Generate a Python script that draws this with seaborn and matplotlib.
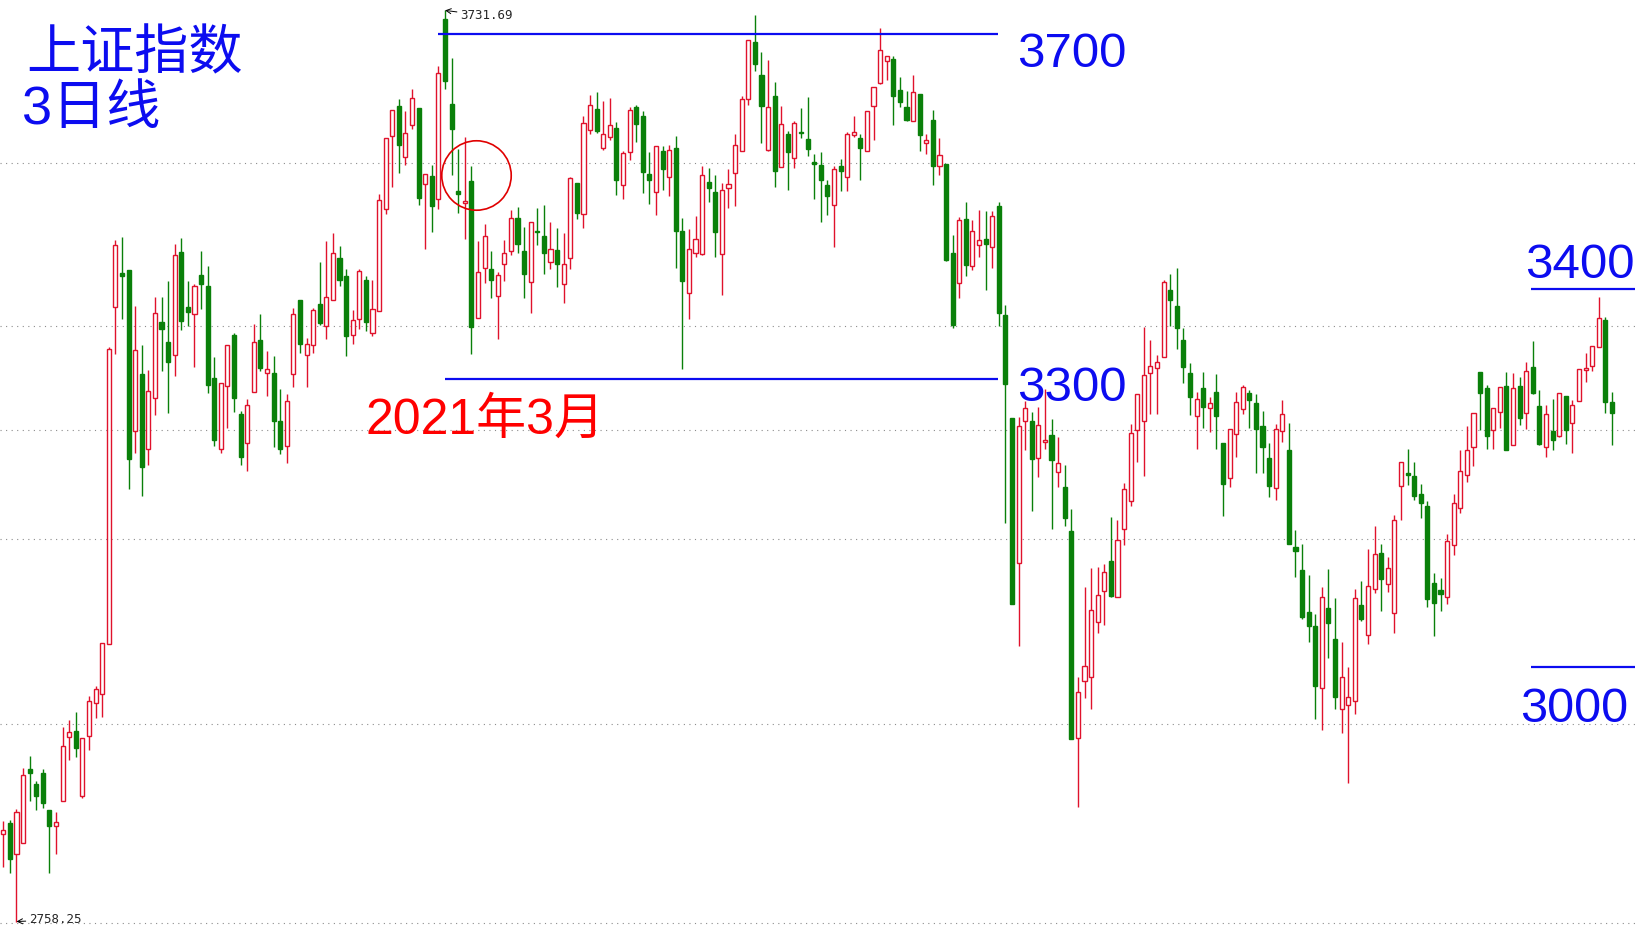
import numpy as np
import pandas as pd
import matplotlib
matplotlib.use("Agg")
import matplotlib.pyplot as plt
import seaborn as sns

# 上证指数 3日线 K线数据 (开, 高, 低, 收)
opens = [
    2852, 2863, 2830, 2842, 2921, 2905, 2917, 2877, 2860, 2887,
    2955, 2962, 2892, 2956, 2992, 3001, 3055, 3415, 3451, 3454,
    3282, 3343, 3263, 3318, 3399, 3377, 3364, 3474, 3415, 3407,
    3449, 3437, 3339, 3263, 3330, 3385, 3300, 3270, 3324, 3380,
    3344, 3344, 3293, 3266, 3343, 3422, 3363, 3374, 3418, 3395,
    3422, 3467, 3448, 3385, 3402, 3444, 3387, 3410, 3520, 3598,
    3630, 3575, 3609, 3627, 3546, 3555, 3530, 3723, 3632, 3539,
    3526, 3549, 3403, 3456, 3455, 3427, 3461, 3475, 3510, 3475,
    3442, 3496, 3491, 3463, 3476, 3439, 3467, 3547, 3514, 3604,
    3626, 3585, 3596, 3606, 3545, 3580, 3629, 3619, 3557, 3538,
    3581, 3554, 3585, 3496, 3430, 3473, 3471, 3548, 3538, 3471,
    3542, 3558, 3581, 3637, 3698, 3663, 3583, 3640, 3564, 3600,
    3574, 3602, 3594, 3570, 3567, 3545, 3524, 3565, 3554, 3599,
    3595, 3582, 3630, 3654, 3678, 3680, 3647, 3628, 3614, 3642,
    3590, 3615, 3565, 3568, 3473, 3440, 3509, 3459, 3481, 3487,
    3479, 3523, 3406, 3296, 3141, 3293, 3293, 3253, 3271, 3278,
    3238, 3223, 3175, 2954, 3015, 3019, 3078, 3111, 3143, 3105,
    3178, 3208, 3283, 3293, 3344, 3350, 3361, 3433, 3416, 3380,
    3344, 3298, 3328, 3307, 3324, 3269, 3232, 3279, 3306, 3323,
    3312, 3288, 3253, 3221, 3282, 3262, 3158, 3134, 3089, 3074,
    3008, 3093, 3060, 2985, 2990, 2994, 3096, 3064, 3114, 3152,
    3119, 3088, 3224, 3237, 3234, 3215, 3202, 3120, 3112, 3105,
    3160, 3200, 3235, 3265, 3345, 3328, 3283, 3303, 3330, 3267,
    3330, 3302, 3351, 3309, 3265, 3282, 3277, 3320, 3291, 3314,
    3348, 3352, 3372, 3401, 3313,
]
highs = [
    2866, 2867, 2879, 2922, 2935, 2908, 2921, 2877, 2875, 2966,
    2974, 2982, 2954, 2999, 3010, 3056, 3372, 3486, 3490, 3454,
    3416, 3374, 3348, 3425, 3426, 3443, 3482, 3488, 3443, 3439,
    3475, 3459, 3361, 3334, 3374, 3387, 3304, 3317, 3397, 3407,
    3368, 3362, 3327, 3322, 3414, 3422, 3382, 3414, 3463, 3485,
    3494, 3480, 3455, 3412, 3455, 3448, 3444, 3536, 3595, 3625,
    3637, 3624, 3648, 3627, 3557, 3566, 3672, 3731.69, 3681, 3584,
    3596, 3565, 3485, 3504, 3475, 3452, 3486, 3518, 3522, 3500,
    3506, 3521, 3524, 3506, 3499, 3494, 3554, 3547, 3619, 3641,
    3644, 3635, 3638, 3612, 3581, 3628, 3631, 3624, 3580, 3587,
    3587, 3588, 3597, 3510, 3498, 3512, 3565, 3563, 3556, 3547,
    3562, 3600, 3640, 3700, 3727, 3687, 3679, 3655, 3630, 3603,
    3614, 3627, 3639, 3578, 3580, 3550, 3565, 3573, 3602, 3619,
    3600, 3624, 3650, 3713, 3683, 3683, 3661, 3646, 3663, 3642,
    3600, 3625, 3595, 3568, 3492, 3511, 3527, 3508, 3518, 3517,
    3517, 3527, 3417, 3296, 3297, 3314, 3303, 3308, 3327, 3295,
    3276, 3246, 3199, 3020, 3116, 3136, 3137, 3140, 3190, 3187,
    3227, 3290, 3322, 3393, 3380, 3364, 3444, 3450, 3457, 3392,
    3355, 3324, 3345, 3319, 3343, 3269, 3284, 3324, 3332, 3326,
    3322, 3304, 3269, 3290, 3315, 3291, 3177, 3162, 3129, 3087,
    3116, 3135, 3104, 3057, 3030, 3114, 3122, 3156, 3181, 3162,
    3148, 3193, 3249, 3263, 3249, 3226, 3208, 3131, 3125, 3172,
    3215, 3262, 3288, 3302, 3345, 3332, 3307, 3329, 3345, 3344,
    3340, 3356, 3379, 3326, 3310, 3316, 3323, 3320, 3315, 3349,
    3366, 3373, 3426, 3404, 3324,
]
lows = [
    2817, 2810, 2758.25, 2842, 2887, 2877, 2880, 2810, 2830, 2887,
    2931, 2934, 2890, 2941, 2976, 2977, 3055, 3365, 3402, 3220,
    3259, 3213, 3246, 3299, 3346, 3302, 3341, 3390, 3394, 3351,
    3413, 3323, 3266, 3259, 3286, 3303, 3246, 3240, 3324, 3346,
    3320, 3265, 3258, 3248, 3329, 3366, 3329, 3366, 3396, 3381,
    3422, 3437, 3362, 3375, 3391, 3389, 3384, 3410, 3514, 3543,
    3558, 3566, 3605, 3524, 3477, 3495, 3520, 3648, 3556, 3515,
    3487, 3365, 3403, 3440, 3424, 3381, 3443, 3470, 3472, 3424,
    3408, 3481, 3450, 3455, 3436, 3419, 3455, 3509, 3499, 3600,
    3601, 3583, 3593, 3534, 3530, 3572, 3591, 3537, 3525, 3513,
    3540, 3533, 3457, 3349, 3402, 3468, 3470, 3527, 3468, 3428,
    3521, 3523, 3581, 3631, 3667, 3590, 3582, 3543, 3564, 3540,
    3563, 3595, 3576, 3530, 3506, 3513, 3479, 3539, 3539, 3596,
    3550, 3581, 3593, 3653, 3657, 3609, 3629, 3614, 3614, 3582,
    3578, 3545, 3556, 3464, 3392, 3424, 3448, 3454, 3468, 3433,
    3457, 3395, 3184, 3097, 3053, 3262, 3197, 3233, 3263, 3178,
    3222, 3181, 2953, 2881, 2997, 2985, 3066, 3075, 3105, 3105,
    3161, 3202, 3249, 3234, 3301, 3301, 3361, 3394, 3370, 3334,
    3299, 3263, 3285, 3281, 3263, 3192, 3222, 3255, 3300, 3285,
    3237, 3237, 3212, 3209, 3271, 3162, 3126, 3081, 3057, 2975,
    2963, 3040, 2985, 2960, 2906, 2980, 3079, 3055, 3109, 3090,
    3110, 3067, 3187, 3225, 3209, 3189, 3094, 3063, 3090, 3098,
    3150, 3195, 3228, 3245, 3283, 3263, 3263, 3285, 3262, 3267,
    3289, 3284, 3322, 3267, 3255, 3262, 3276, 3268, 3259, 3314,
    3335, 3346, 3372, 3302, 3267,
]
closes = [
    2856, 2825, 2875, 2915, 2917, 2892, 2885, 2860, 2865, 2946,
    2961, 2944, 2954, 2994, 3007, 3056, 3370, 3481, 3448, 3252,
    3369, 3244, 3325, 3408, 3391, 3356, 3470, 3400, 3409, 3437,
    3439, 3331, 3273, 3334, 3374, 3318, 3255, 3310, 3377, 3350,
    3349, 3293, 3263, 3314, 3407, 3375, 3375, 3412, 3398, 3425,
    3473, 3444, 3384, 3401, 3453, 3399, 3413, 3529, 3595, 3625,
    3588, 3601, 3638, 3531, 3557, 3523, 3665, 3656, 3605, 3535,
    3528, 3393, 3452, 3491, 3444, 3449, 3472, 3510, 3482, 3450,
    3506, 3495, 3473, 3477, 3461, 3461, 3553, 3515, 3611, 3631,
    3603, 3600, 3609, 3550, 3579, 3625, 3610, 3559, 3550, 3587,
    3562, 3583, 3496, 3443, 3477, 3487, 3556, 3542, 3495, 3540,
    3546, 3588, 3637, 3700, 3674, 3630, 3628, 3560, 3610, 3580,
    3611, 3601, 3584, 3568, 3551, 3533, 3562, 3560, 3600, 3602,
    3585, 3624, 3650, 3689, 3683, 3640, 3634, 3615, 3645, 3599,
    3593, 3565, 3577, 3465, 3396, 3508, 3460, 3496, 3486, 3482,
    3512, 3408, 3333, 3098, 3288, 3307, 3252, 3289, 3273, 3251,
    3248, 3189, 2953, 3003, 3031, 3091, 3107, 3132, 3106, 3166,
    3220, 3280, 3322, 3342, 3352, 3356, 3442, 3422, 3392, 3351,
    3319, 3317, 3308, 3312, 3298, 3226, 3284, 3313, 3329, 3315,
    3284, 3265, 3224, 3284, 3300, 3162, 3154, 3084, 3074, 3010,
    3105, 3077, 2998, 3020, 2998, 3104, 3081, 3117, 3151, 3124,
    3136, 3187, 3249, 3235, 3213, 3205, 3103, 3099, 3108, 3165,
    3205, 3240, 3262, 3302, 3323, 3277, 3307, 3329, 3262, 3328,
    3296, 3346, 3323, 3268, 3301, 3273, 3323, 3283, 3310, 3349,
    3350, 3373, 3403, 3313, 3302,
]

# 软件背景的虚线网格价位
grid_levels = [3569, 3395, 3283, 3167, 2969, 2757]

RED = "#e0122c"
GREEN = "#0a800a"
BLUE = "#0c0cf0"

df = pd.DataFrame({"open": opens, "high": highs, "low": lows, "close": closes})
df["idx"] = np.arange(len(df))
df["up"] = df["close"] >= df["open"]
df["color"] = np.where(df["up"], RED, GREEN)
df["face"] = np.where(df["up"], "white", GREEN)
df["bottom"] = df[["open", "close"]].min(axis=1)
df["body"] = (df["close"] - df["open"]).abs()

sns.set_theme(style="white")
plt.rcParams["font.family"] = ["Noto Sans CJK SC", "DejaVu Sans"]

fig = plt.figure(figsize=(16.35, 9.33), dpi=100)
ax = fig.add_axes([0, 0, 1, 1])
ax.set_xlim(-0.5, 247.5)
ax.set_ylim(2746, 3742.8)
ax.set_axis_off()

# 网格
for g in grid_levels:
    ax.axhline(g, color="#8c8c8c", lw=0.8, ls=(0, (1, 4)), zorder=1)

# 影线 + 实体
ax.vlines(df["idx"], df["low"], df["high"], colors=df["color"], lw=1.0, zorder=2)
ax.bar(df["idx"], df["body"], bottom=df["bottom"], width=0.62,
       color=df["face"], edgecolor=df["color"], linewidth=1.0, zorder=3)

# 标注
ax.annotate("3731.69", xy=(67, 3731.69), xytext=(69.3, 3726),
            fontsize=9, family="DejaVu Sans Mono", va="center",
            arrowprops=dict(arrowstyle="->", lw=0.7, color="black",
                            shrinkA=0, shrinkB=0))
ax.annotate("2758.25", xy=(2, 2758.25), xytext=(3.9, 2760),
            fontsize=9, family="DejaVu Sans Mono", va="center",
            arrowprops=dict(arrowstyle="->", lw=0.7, color="black",
                            shrinkA=0, shrinkB=0))

ax.hlines(3706, 65.9, 150.9, color=BLUE, lw=1.6, zorder=4)
ax.hlines(3337.4, 67.0, 150.9, color=BLUE, lw=1.6, zorder=4)
ax.hlines(3434.3, 231.7, 247.5, color=BLUE, lw=1.6, zorder=4)
ax.hlines(3030, 231.7, 247.5, color=BLUE, lw=1.6, zorder=4)

num_font = ["Liberation Sans", "DejaVu Sans"]
ax.text(153.7, 3671.5, "3700", fontsize=35.5, color=BLUE, family=num_font, va="baseline")
ax.text(153.7, 3314, "3300", fontsize=35.5, color=BLUE, family=num_font, va="baseline")
ax.text(230.9, 3445.4, "3400", fontsize=35.5, color=BLUE, family=num_font, va="baseline")
ax.text(230.0, 2971, "3000", fontsize=35, color=BLUE, family=num_font, va="baseline")

ax.text(54.9, 3279, "2021年3月", fontsize=36, color="#ff0000",
        family=["Liberation Sans", "Noto Sans CJK SC"], va="baseline")

ax.plot([71.7], [3555.7], marker="o", ms=50, mfc="none", mec="#e00000", mew=1.2, zorder=5)

ax.text(0.016, 0.926, "上证指数", transform=ax.transAxes, fontsize=39, color=BLUE, va="baseline")
ax.text(0.0135, 0.867, "3日线", transform=ax.transAxes, fontsize=39, color=BLUE,
        family=["Liberation Sans", "Noto Sans CJK SC"], va="baseline")

fig.savefig("out.png", dpi=100, facecolor="white")
